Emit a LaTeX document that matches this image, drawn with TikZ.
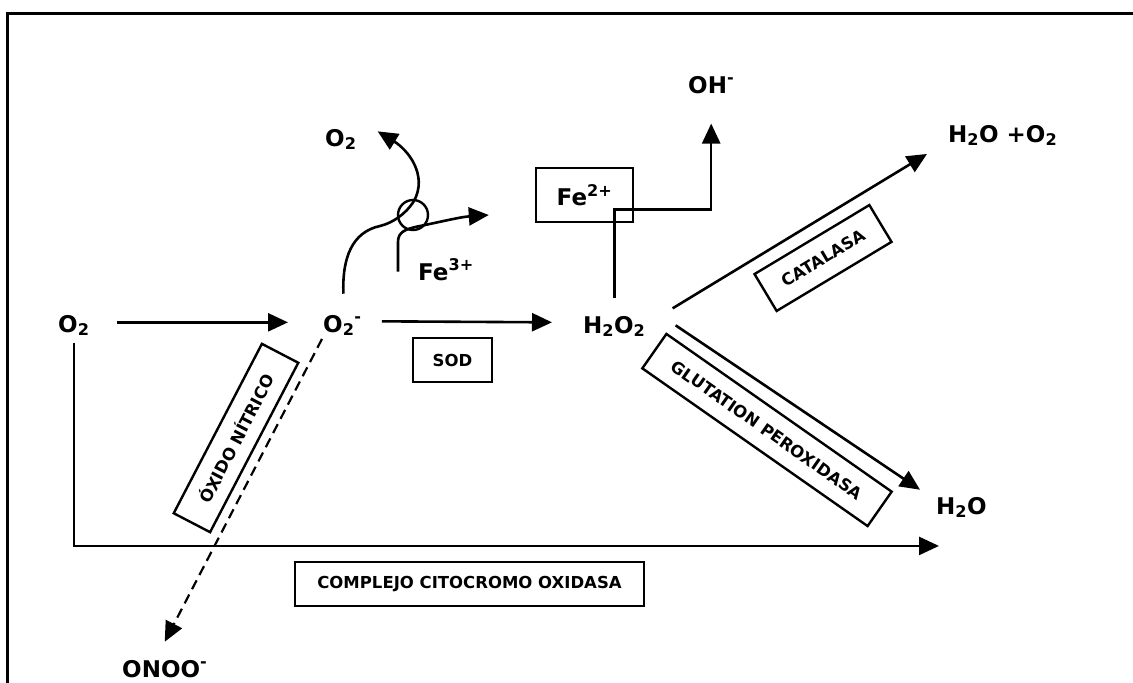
\documentclass[tikz,border=0pt]{standalone}
\usepackage{fontspec}
\setmainfont{DejaVu Sans}
\usepackage{tikz}
\usetikzlibrary{arrows.meta}
\newcommand{\chemfont}{\fontsize{23}{27}\selectfont\bfseries}
\newcommand{\enzfont}{\fontsize{16.5}{19}\selectfont\bfseries}
\tikzset{
  chem/.style={font=\chemfont, inner sep=0pt},
  enzbox/.style={
    rectangle, draw, line width=2.4pt, font=\enzfont,
    inner sep=0pt, text centered
  },
  arrow/.style={-{Triangle[length=20pt,width=18pt]}, line width=2.6pt},
  dasharrow/.style={arrow, line width=2.2pt, dash pattern=on 10pt off 6pt},
  frame/.style={line width=3pt}
}

\begin{document}
\begin{tikzpicture}[x=1pt, y=-1pt]
\useasboundingbox (0,0) rectangle (1133,683);
\fill[white] (0,0) rectangle (1133,683);
\draw[frame] (1140,13) -- (7,13) -- (7,690);

% species
\node[chem, anchor=base west] (o2)    at (58,332)  {O\textsubscript{2}};
\node[chem, anchor=base west] (o2m)   at (323,332) {O\textsubscript{2}\textsuperscript{-}};
\node[chem, anchor=base west] (h2o2)  at (583,333) {H\textsubscript{2}O\textsubscript{2}};
\node[chem, anchor=base west] (o2top) at (325,146) {O\textsubscript{2}};
\node[chem, anchor=base west] (fe3)   at (418,280) {Fe\textsuperscript{3+}};
\node[chem, anchor=base west] (oh)    at (688,93)  {OH\textsuperscript{-}};
\node[chem, anchor=base west] (h2oo2) at (948,142) {H\textsubscript{2}O +O\textsubscript{2}};
\node[chem, anchor=base west] (h2o)   at (936,514) {H\textsubscript{2}O};
\node[chem, anchor=base west] (onoo)  at (122,677) {ONOO\textsuperscript{-}};
\node[enzbox, font=\chemfont, minimum width=97pt, minimum height=54pt]
  (fe2) at (584.5,195) {Fe\textsuperscript{2+}};
\node[circle, draw, line width=2.4pt, minimum size=30pt, inner sep=0pt]
  (redox) at (413,215) {};

% enzymes
\node[enzbox, minimum width=79pt, minimum height=44pt]
  (sod) at (452.5,360) {SOD};
\node[enzbox, minimum width=349pt, minimum height=44pt]
  (cox) at (469.5,584) {COMPLEJO CITOCROMO OXIDASA};
\node[enzbox, rotate=62.5, minimum width=191pt, minimum height=41pt]
  (no) at (236,438) {ÓXIDO NÍTRICO};
\node[enzbox, rotate=31, minimum width=134pt, minimum height=43pt]
  (cat) at (823,258) {CATALASA};
\node[enzbox, rotate=-35, minimum width=275pt, minimum height=42pt]
  (gpx) at (767,430) {GLUTATION PEROXIDASA};

\draw[arrow] ([shift={(27pt,3pt)}]o2.east) -- ([shift={(-35pt,3pt)}]o2m.west);
\draw[arrow] ([shift={(20pt,4pt)}]o2m.east) -- ([shift={(-31pt,4pt)}]h2o2.west);
\draw[arrow] ([yshift=18pt]h2o2.north) -- ++(0,-88) -| ([yshift=-30pt]oh.south);
\draw[arrow] ([shift={(27pt,18pt)}]h2o2.east) -- ([shift={(-21pt,-8pt)}]h2oo2.south west);
\draw[arrow] ([shift={(30pt,1pt)}]h2o2.east) -- ([shift={(-16pt,7pt)}]h2o.north west);
\draw[arrow] ([yshift=-7pt]o2.south) |- ([shift={(3pt,-28pt)}]h2o.south west);
\draw[dasharrow] ([shift={(-1pt,-3pt)}]o2m.south west) -- ([yshift=18pt]onoo.north);

% redox loop
\draw[arrow] ([shift={(1pt,21pt)}]o2m.north)
  .. controls (342,258) and (352,232) .. (380,226)
  .. controls (392,223) and (405,215) .. (414,201)
  .. controls (428,175) and (408,150) .. ([shift={(21pt,8pt)}]o2top.east);
\draw[arrow] ([shift={(-20pt,-2pt)}]fe3.west) -- (398,242)
  .. controls (398,232) and (405,229) .. (420,226)
  .. controls (440,222) and (460,217) .. ([shift={(-46pt,-20pt)}]fe2.west);
\end{tikzpicture}
\end{document}
